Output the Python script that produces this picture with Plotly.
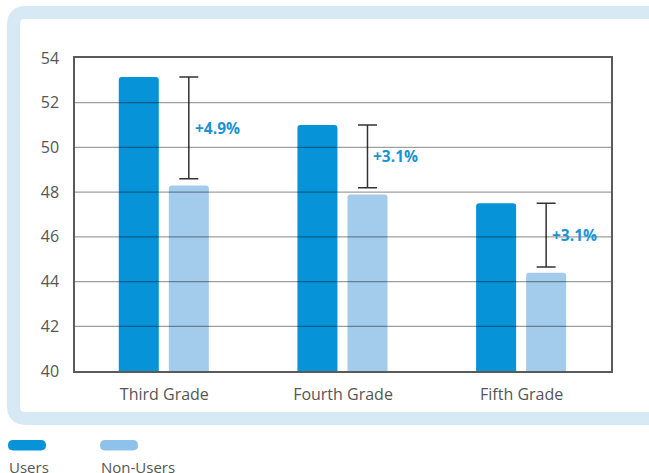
import plotly.graph_objects as go

categories = ["Third Grade", "Fourth Grade", "Fifth Grade"]
users = [53.15, 51.0, 47.5]
non_users = [48.3, 47.9, 44.4]
gap_low = [48.6, 48.2, 44.65]
gap_labels = ["+4.9%", "+3.1%", "+3.1%"]
y_ticks = [40, 42, 44, 46, 48, 50, 52, 54]

USER_COLOR = "#0793d7"
NONUSER_COLOR = "#a2cbec"
FRAME_COLOR = "#d7e9f5"
TEXT_COLOR = "#555555"
FONT = "Open Sans"

W, H = 649, 473
L, R, T, B = 75, 38, 58, 102
PW, PH = W - L - R, H - T - B


def p(x, y):
    return (x - L) / PW, (H - B - y) / PH


def rrect(x0, y0, x1, y1, r):
    pts = []
    def add(cmd, *xy):
        s = cmd
        for i in range(0, len(xy), 2):
            px, py = p(xy[i], xy[i + 1])
            s += f" {px:.5f},{py:.5f}"
        pts.append(s)
    add("M", x0 + r, y0)
    add("L", x1 - r, y0)
    add("Q", x1, y0, x1, y0 + r)
    add("L", x1, y1 - r)
    add("Q", x1, y1, x1 - r, y1)
    add("L", x0 + r, y1)
    add("Q", x0, y1, x0, y1 - r)
    add("L", x0, y0 + r)
    add("Q", x0, y0, x0 + r, y0)
    return " ".join(pts) + " Z"


xs = list(range(len(categories)))
bw = 0.224
u_off = -0.255
n_off = 0.025
err_x = [x + n_off + bw / 2 for x in xs]

fig = go.Figure()
fig.add_trace(go.Bar(x=xs, y=users, width=bw, offset=u_off, marker_color=USER_COLOR,
                     marker_line_width=0, name="Users", showlegend=False))
fig.add_trace(go.Bar(x=xs, y=non_users, width=bw, offset=n_off, marker_color=NONUSER_COLOR,
                     marker_line_width=0, name="Non-Users", showlegend=False))
fig.add_trace(go.Scatter(
    x=err_x, y=gap_low, mode="markers", marker=dict(opacity=0), showlegend=False,
    hoverinfo="skip",
    error_y=dict(type="data", symmetric=False,
                 array=[u - lo for u, lo in zip(users, gap_low)],
                 arrayminus=[0] * len(users), width=9.5, thickness=1.5, color="#333333")))

shapes = []
# frame
shapes.append(dict(type="path", xref="paper", yref="paper", layer="below",
                   path=rrect(13.5, 12.5, 670, 418.5, 12),
                   line=dict(color=FRAME_COLOR, width=13), fillcolor="rgba(0,0,0,0)"))
# gridlines above bars
for v in y_ticks[1:-1]:
    shapes.append(dict(type="line", xref="paper", yref="y", x0=0, x1=1, y0=v, y1=v,
                       line=dict(color="rgba(0,0,0,0.38)", width=1.3), layer="above"))
# legend pills
shapes.append(dict(type="path", xref="paper", yref="paper", path=rrect(8, 440, 46, 450.5, 5.2),
                   fillcolor=USER_COLOR, line=dict(width=0)))
shapes.append(dict(type="path", xref="paper", yref="paper", path=rrect(100, 440, 138, 450.5, 5.2),
                   fillcolor="#8fc2ea", line=dict(width=0)))

annotations = []
for x, lo, hi, lab in zip(err_x, gap_low, users, gap_labels):
    annotations.append(dict(x=x, y=(lo + hi) / 2, xref="x", yref="y", text=f"<b>{lab}</b>",
                            showarrow=False, xanchor="left", yanchor="middle", xshift=4,
                            font=dict(family=FONT, size=15.5, color="#1a93d3")))
for lx, lab in [(7, "Users"), (99, "Non-Users")]:
    ax, ay = p(lx, 467)
    annotations.append(dict(x=ax, y=ay, xref="paper", yref="paper", text=lab, showarrow=False,
                            xanchor="left", yanchor="middle",
                            font=dict(family=FONT, size=15, color=TEXT_COLOR)))

fig.update_layout(
    width=W, height=H, autosize=False,
    margin=dict(l=L, r=R, t=T, b=B, autoexpand=False),
    paper_bgcolor="white", plot_bgcolor="white",
    barcornerradius=3,
    shapes=shapes, annotations=annotations,
    font=dict(family=FONT, color=TEXT_COLOR),
    xaxis=dict(range=[-0.5, 2.5], tickvals=xs, ticktext=categories, showgrid=False,
               zeroline=False, showline=True, mirror=True, linecolor="#5a5a5a", linewidth=1.5,
               ticks="", ticklabelstandoff=8, tickfont=dict(size=16, color=TEXT_COLOR, family=FONT)),
    yaxis=dict(range=[40, 54], tickvals=y_ticks, showgrid=False, zeroline=False,
               showline=True, mirror=True, linecolor="#5a5a5a", linewidth=1.5,
               ticks="", ticklabelstandoff=11, tickfont=dict(size=16, color=TEXT_COLOR, family=FONT)),
)

fig.write_html("out.html", config={"responsive": False, "displayModeBar": False},
               post_script="document.body.style.margin='0';document.body.style.padding='0';"
                           "document.documentElement.style.overflow='hidden';")
